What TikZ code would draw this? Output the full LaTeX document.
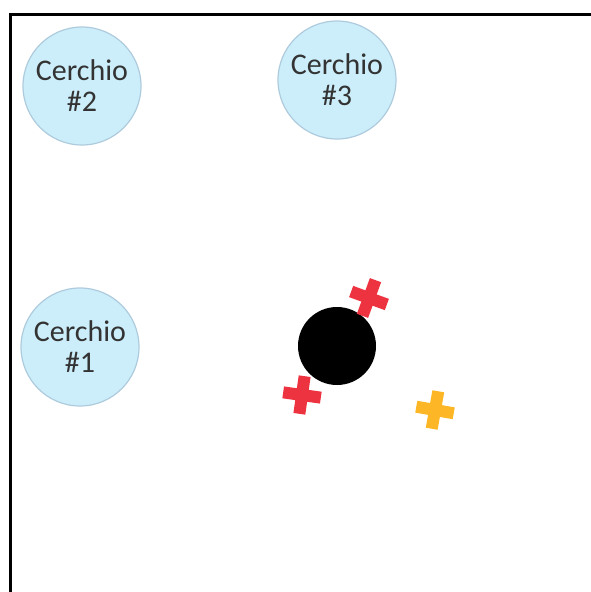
\documentclass[tikz,border=0pt]{standalone}
\usepackage{fontspec}
\setmainfont{Carlito}
\definecolor{hoopfill}{HTML}{CCEEFA}
\definecolor{hoopline}{HTML}{AECBDD}
\definecolor{txt}{HTML}{333333}
\definecolor{crossred}{HTML}{EE3340}
\definecolor{crossyel}{HTML}{FDB726}
\tikzset{
  hoop/.style={circle, fill=hoopfill, draw=hoopline, line width=1.2pt, minimum size=118pt, inner sep=0pt, align=center, text=txt, font=\fontsize{30}{31}\selectfont},
  ball/.style={circle, fill=black, minimum size=78pt, inner sep=0pt},
}
\newcommand{\mycross}[4]{%
  \begin{scope}[shift={(#1,#2)}, rotate=#3]
    \fill[#4] (-19,-6) rectangle (19,6);
    \fill[#4] (-6,-19) rectangle (6,19);
  \end{scope}}
\begin{document}
\begin{tikzpicture}[x=1pt,y=-1pt]
\useasboundingbox (0,0) rectangle (590,592);
\draw[line width=3pt, line cap=rect] (10,600) -- (10,14) -- (600,14);
\node[hoop] (c2) at (82,86) {Cerchio\\\#2};
\node[hoop] (c3) at (337,80) {Cerchio\\\#3};
\node[hoop] (c1) at (80,347) {Cerchio\\\#1};
\node[ball] (b) at (337,346) {};
\mycross{369}{298}{-20}{crossred}
\mycross{302}{395}{-8}{crossred}
\mycross{435}{410}{-10}{crossyel}
\end{tikzpicture}
\end{document}
